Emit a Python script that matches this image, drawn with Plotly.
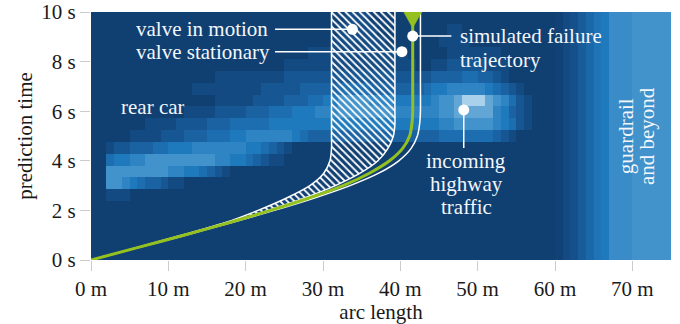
import numpy as np
import plotly.graph_objects as go

# ---------------- data ----------------
ARC_MAX = 75.0          # m, right end of the x axis
T_MAX = 10.0            # s, top of the y axis
N_COLS = 75             # 1 m heat-map columns
N_ROWS = 21             # prediction-time rows

# occupancy intensity (0 = free, 9 = most likely), columns 0..59, rows from top (t=10 s) to bottom (t=0 s)
occupancy_rows_top_down = [
    "0000000000 0000000000 0000000000 0001110000 0000000000 0000000000",
    "0000000000 0000000000 0000000000 0011111000 0000001100 0000000000",
    "0000000000 0000000000 0000000000 0111111100 0000011110 0000000000",
    "0000000000 0000000000 0000000011 1111111111 1000001111 1110000000",
    "0000000000 0000000000 0000011111 1111111111 1100112222 2111000000",
    "0000000000 0000001111 1111122222 2222222222 2222333344 3321000000",
    "0000000000 0001111111 1122222333 3344443333 3334556666 6543210000",
    "0000000000 0000001111 1222233344 5577776665 5555677899 9876421000",
    "0000000000 0011112222 3334445556 6677777776 6666677888 8865321000",
    "0000000111 1222233344 4445555555 5555555555 5555566777 7765421000",
    "0000011112 2233344455 6666665433 3333333333 3333344444 4432100000",
    "0012233344 5556666666 5543210000 0000000000 0000000000 0000000000",
    "0045566777 7777776655 4321100000 0000000000 0000000000 0000000000",
    "0077777777 6655432100 0000000000 0000000000 0000000000 0000000000",
    "0077654332 1100000000 0000000000 0000000000 0000000000 0000000000",
    "0011100000 0000000000 0000000000 0000000000 0000000000 0000000000",
    "0000000000 0000000000 0000000000 0000000000 0000000000 0000000000",
    "0000000000 0000000000 0000000000 0000000000 0000000000 0000000000",
    "0000000000 0000000000 0000000000 0000000000 0000000000 0000000000",
    "0000000000 0000000000 0000000000 0000000000 0000000000 0000000000",
    "0000000000 0000000000 0000000000 0000000000 0000000000 0000000000",
]
# guardrail and beyond: same for every row, columns 60..74
guardrail_levels = [0.3, 1, 1.5, 2.5, 3.5, 4.5, 5, 6.5, 6.5, 6.5, 7, 7, 7, 7, 7]

# reachable-set boundaries and simulated trajectory, x (m) at prediction times t (s)
t_curve = [0, 0.5, 1, 1.5, 2, 2.5, 3, 3.5, 4, 4.5, 5, 5.5, 6, 7, 8, 9, 10]
motion_left_x = [0, 5.9, 11.7, 17.3, 21.6, 25.3, 28.3, 30.1, 30.9, 31.1, 31.1, 31.1, 31.1, 31.1, 31.1, 31.1, 31.1]
motion_right_x = [0, 6.0, 11.9, 17.6, 22.9, 27.6, 31.6, 34.8, 37.1, 38.4, 39.1, 39.3, 39.3, 39.3, 39.3, 39.3, 39.3]
stationary_right_x = [0, 6.1, 12.2, 18.1, 23.7, 28.9, 33.5, 37.2, 39.8, 41.4, 42.2, 42.5, 42.6, 42.6, 42.6, 42.6, 42.6]
failure_x = [0, 6.0, 12.0, 17.8, 23.2, 28.2, 32.6, 36.0, 38.6, 40.3, 41.2, 41.5, 41.6, 41.6, 41.6, 41.6, 41.6]

# axis ticks
x_tick_vals = [0, 10, 20, 30, 40, 50, 60, 70]
x_tick_text = ["0 m", "10 m", "20 m", "30 m", "40 m", "50 m", "60 m", "70 m"]
y_tick_vals = [0, 2, 4, 6, 8, 10]
y_tick_text = ["0 s", "2 s", "4 s", "6 s", "8 s", "10 s"]

# callouts: anchor dot (x, t) and leader end (x, t)
callout_dot_x = [33.8, 40.2, 41.6, 48.2]
callout_dot_t = [9.30, 8.40, 9.03, 6.05]
callout_end_x = [23.8, 23.8, 46.6, 48.2]
callout_end_t = [9.30, 8.40, 9.03, 4.52]

# ---------------- layout constants ----------------
W, H = 680, 324
ML, MR, MT, MB = 91, 9, 12, 64
FONT = "Liberation Serif, Times New Roman, serif"
TXT = "#f3f6fa"
GREEN = "#94c11f"
px_per_m = (W - ML - MR) / ARC_MAX
px_per_s = (H - MT - MB) / T_MAX

levels = ["rgb(16,63,114)", "rgb(19,74,130)", "rgb(22,86,146)", "rgb(26,98,162)",
          "rgb(28,110,176)", "rgb(31,122,189)", "rgb(47,133,196)", "rgb(66,146,203)",
          "rgb(98,166,214)", "rgb(170,209,236)"]
colorscale = [[i / 9, c] for i, c in enumerate(levels)]

rows = [r.replace(" ", "") for r in occupancy_rows_top_down][::-1]
z = [[float(c) for c in r.ljust(60, "0")[:60]] + guardrail_levels for r in rows]
arc_centers = (np.arange(N_COLS) + 0.5) * ARC_MAX / N_COLS
time_centers = (np.arange(N_ROWS) + 0.5) * T_MAX / N_ROWS

fig = go.Figure()
fig.add_trace(go.Heatmap(x=arc_centers, y=time_centers, z=z, colorscale=colorscale,
                         zmin=0, zmax=9, showscale=False, zsmooth=False, hoverinfo="skip"))

line_w = dict(color="white", width=1.5, shape="spline", smoothing=0.8)
fig.add_trace(go.Scatter(x=motion_right_x, y=t_curve, mode="lines", line=line_w, hoverinfo="skip"))
fig.add_trace(go.Scatter(x=motion_left_x, y=t_curve, mode="lines", line=line_w, fill="tonextx",
                         fillcolor="rgba(0,0,0,0)",
                         fillpattern=dict(shape="\\", fgcolor="white", bgcolor="rgba(0,0,0,0)",
                                          size=5, solidity=0.35, fillmode="replace"),
                         hoverinfo="skip"))
fig.add_trace(go.Scatter(x=stationary_right_x, y=t_curve, mode="lines", line=line_w, hoverinfo="skip"))
fig.add_trace(go.Scatter(x=failure_x, y=t_curve, mode="lines",
                         line=dict(color=GREEN, width=3, shape="spline", smoothing=0.8), hoverinfo="skip"))

# end-of-trajectory triangle, sized in pixels
hw = 9 / px_per_m
th = 16 / px_per_s
gx, gt = failure_x[-1], t_curve[-1]
fig.add_trace(go.Scatter(x=[gx - hw, gx + hw, gx, gx - hw], y=[gt, gt, gt - th, gt], mode="lines",
                         fill="toself", fillcolor=GREEN, line=dict(color=GREEN, width=0.5),
                         hoverinfo="skip"))

for x0, t0, x1, t1 in zip(callout_dot_x, callout_dot_t, callout_end_x, callout_end_t):
    fig.add_shape(type="line", x0=x0, y0=t0, x1=x1, y1=t1, line=dict(color="white", width=1.5))
fig.add_trace(go.Scatter(x=callout_dot_x, y=callout_dot_t, mode="markers",
                         marker=dict(color="white", size=11), hoverinfo="skip"))

def label(text, x, y, xanchor="center", angle=0):
    fig.add_annotation(text=text, x=x, y=y, xref="x", yref="y", showarrow=False,
                       xanchor=xanchor, yanchor="middle", textangle=angle,
                       height=None if angle else 24,
                       font=dict(family=FONT, size=21, color=TXT))

label("valve in motion", 23.2, 9.30, "right")
label("valve stationary", 23.4, 8.40, "right")
label("simulated failure", 47.4, 9.03, "left")
label("trajectory", 47.4, 8.08, "left")
label("rear car", 7.97, 6.18)
label("incoming", 48.5, 4.01)
label("highway", 48.5, 3.06)
label("traffic", 48.5, 2.15)
label("guardrail", 69.2, 5.0, angle=-90)
label("and beyond", 71.9, 5.0, angle=-90)

axis_font = dict(family=FONT, size=21, color="#1a1a1a")
fig.update_xaxes(range=[0, ARC_MAX], tickvals=x_tick_vals, ticktext=x_tick_text, showgrid=False,
                 zeroline=False, ticks="outside", ticklen=10, tickcolor="#cccccc", tickwidth=1,
                 automargin=False,
                 tickfont=axis_font, title=dict(text="arc length", font=axis_font, standoff=4))
fig.update_yaxes(range=[0, T_MAX], tickvals=y_tick_vals, ticktext=y_tick_text, showgrid=False,
                 zeroline=False, ticks="outside", ticklen=10, tickcolor="#cccccc", tickwidth=1,
                 automargin=False,
                 tickfont=axis_font, title=dict(text="prediction time", font=axis_font, standoff=3))
fig.update_layout(width=W, height=H, margin=dict(l=ML, r=MR, t=MT, b=MB), showlegend=False,
                  plot_bgcolor="white", paper_bgcolor="white", font=dict(family=FONT))
fig.write_html("out.html", post_script="document.body.style.margin='0';",
               config={"displayModeBar": False})
